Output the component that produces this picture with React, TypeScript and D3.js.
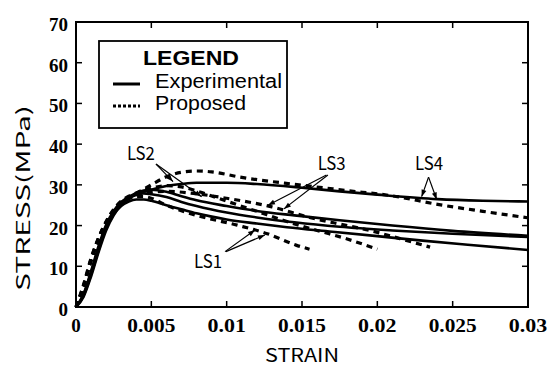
import React from 'react';
import * as d3 from 'd3';

// ---------- data ----------
const xTicks = [0, 0.005, 0.01, 0.015, 0.02, 0.025, 0.03];
const xTickLabels = ['0', '0.005', '0.01', '0.015', '0.02', '0.025', '0.03'];
const yTicks = [0, 10, 20, 30, 40, 50, 60, 70];
const yTickLabels = ['0', '10', '20', '30', '40', '50', '60', '70'];

const ls1ExpStrain = [0, 0.0005, 0.001, 0.0015, 0.002, 0.0025, 0.003, 0.0035, 0.004, 0.0045, 0.005, 0.006, 0.007, 0.008, 0.01, 0.012, 0.014, 0.017, 0.02, 0.023, 0.026, 0.03];
const ls1ExpStress = [0, 3, 8.5, 14.5, 19.5, 22.8, 24.8, 25.9, 26.4, 26.4, 26.1, 25, 24, 23, 21.5, 20.5, 19.6, 18.5, 17.4, 16.3, 15.3, 14];

const ls2ExpStrain = [0, 0.0005, 0.001, 0.0015, 0.002, 0.0025, 0.003, 0.0035, 0.004, 0.0045, 0.005, 0.006, 0.007, 0.008, 0.01, 0.012, 0.0145, 0.0175, 0.021, 0.025, 0.03];
const ls2ExpStress = [0, 2.8, 8, 14, 19.5, 23.3, 25.6, 27, 28, 28.6, 28.8, 28.3, 27.2, 26.2, 24.8, 23.6, 22.5, 21.3, 20, 18.7, 17.5];

const ls3ExpStrain = [0, 0.0005, 0.001, 0.0015, 0.002, 0.0025, 0.003, 0.0035, 0.004, 0.0045, 0.005, 0.006, 0.007, 0.008, 0.01, 0.012, 0.0145, 0.0175, 0.021, 0.025, 0.03];
const ls3ExpStress = [0, 3.2, 8.8, 15, 20.2, 23.6, 25.8, 27, 27.6, 27.9, 27.7, 27, 25.8, 24.8, 23.2, 22, 20.8, 19.7, 18.8, 18, 17.2];

const ls4ExpStrain = [0, 0.0005, 0.001, 0.0015, 0.002, 0.0025, 0.003, 0.0035, 0.004, 0.005, 0.006, 0.007, 0.008, 0.01, 0.012, 0.015, 0.0175, 0.02, 0.024, 0.027, 0.03];
const ls4ExpStress = [0, 2.5, 7.5, 13.5, 18.8, 22.5, 25, 26.6, 27.6, 28.8, 29.7, 30.2, 30.5, 30.5, 30.2, 29.3, 28.4, 27.6, 26.5, 26.1, 25.9];

const ls1PropStrain = [0, 0.0005, 0.001, 0.0015, 0.002, 0.0025, 0.003, 0.0035, 0.004, 0.0045, 0.005, 0.006, 0.008, 0.0107, 0.0127, 0.0146, 0.0155];
const ls1PropStress = [0, 5.5, 12, 17, 20.8, 23.6, 25.5, 26.6, 27.1, 27.1, 26.7, 25, 22.5, 20.1, 18, 15.2, 14.2];

const ls2PropStrain = [0, 0.0005, 0.001, 0.0015, 0.002, 0.0025, 0.003, 0.0035, 0.004, 0.005, 0.006, 0.007, 0.008, 0.01, 0.012, 0.014, 0.016, 0.018, 0.02];
const ls2PropStress = [0, 5.2, 11.8, 17, 21, 24, 26, 27.2, 28, 29.2, 29.8, 29.5, 28.5, 26, 23.5, 21, 18.8, 16.7, 14.2];

const ls3PropStrain = [0, 0.0005, 0.001, 0.0015, 0.002, 0.0025, 0.003, 0.0035, 0.004, 0.005, 0.006, 0.008, 0.01, 0.013, 0.0155, 0.018, 0.0195, 0.0215, 0.0235];
const ls3PropStress = [0, 5, 11.5, 16.8, 20.8, 23.8, 25.8, 26.9, 27.5, 28.2, 28.4, 27.8, 26.7, 24.6, 22, 20, 18.8, 16.8, 14.7];

const ls4PropStrain = [0, 0.0005, 0.001, 0.0015, 0.002, 0.0025, 0.003, 0.0035, 0.004, 0.005, 0.006, 0.007, 0.008, 0.009, 0.0109, 0.0148, 0.018, 0.021, 0.024, 0.027, 0.03];
const ls4PropStress = [0, 5, 11.2, 16.5, 20.5, 23.5, 25.6, 26.9, 27.9, 30, 32, 33.1, 33.4, 33.2, 31.9, 30, 28.6, 27.3, 25.2, 23.5, 21.9];

// annotation labels (data coords): label anchor, arrow start, arrow tips
const annLabels = ['LS1', 'LS2', 'LS3', 'LS4'];
const annLabelPos = [[0.00876, 9.6], [0.00431, 36.1], [0.01697, 33.65], [0.02343, 33.65]];
const annStart = [[[0.00989, 13.6], [0.00995, 13.6]], [[0.00531, 35.1], [0.00531, 35.1]], [[0.01662, 32.4], [0.01672, 32.4]], [[0.0234, 31.9], [0.0234, 31.9]]];
const annTips = [[[0.01188, 18.9], [0.01254, 17.7]], [[0.00644, 30.8], [0.00834, 27.1]], [[0.01274, 25.0], [0.0138, 24.1]], [[0.02294, 27.1], [0.02394, 26.4]]];

const legendTitle = 'LEGEND';
const legendLabels = ['Experimental', 'Proposed'];

// ---------- layout ----------
const W = 556, H = 367;
const X0 = 76, X1 = 528, Y0 = 307, Y1 = 22;

export default function App() {
  const x = d3.scaleLinear().domain([0, 0.03]).range([X0, X1]);
  const y = d3.scaleLinear().domain([0, 70]).range([Y0, Y1]);
  const line = d3.line<[number, number]>().x(d => x(d[0])).y(d => y(d[1])).curve(d3.curveMonotoneX);
  const mk = (s: number[], v: number[]) => line(s.map((e, i) => [e, v[i]] as [number, number])) || '';

  const exp = [
    mk(ls1ExpStrain, ls1ExpStress),
    mk(ls2ExpStrain, ls2ExpStress),
    mk(ls3ExpStrain, ls3ExpStress),
    mk(ls4ExpStrain, ls4ExpStress),
  ];
  const prop = [
    mk(ls1PropStrain, ls1PropStress),
    mk(ls2PropStrain, ls2PropStress),
    mk(ls3PropStrain, ls3PropStress),
    mk(ls4PropStrain, ls4PropStress),
  ];

  const tickFont = "'Liberation Serif', 'DejaVu Serif', serif";
  const sansFont = "'Liberation Sans', Arial, sans-serif";
  const gothFont = "'Noto Sans CJK JP', 'DejaVu Sans', sans-serif";

  const arrowHead = (sx: number, sy: number, tx: number, ty: number) => {
    const ang = Math.atan2(ty - sy, tx - sx);
    const L = 7, Wd = 2.5;
    const bx = tx - L * Math.cos(ang), by = ty - L * Math.sin(ang);
    const px = -Math.sin(ang) * Wd, py = Math.cos(ang) * Wd;
    return `M${tx},${ty}L${bx + px},${by + py}L${bx - px},${by - py}Z`;
  };

  return (
    <svg width={W} height={H} style={{ position: 'absolute', left: 0, top: 0, background: '#fff' }}>
      <rect x={0} y={0} width={W} height={H} fill="#fff" />
      {/* curves */}
      <g fill="none" stroke="#000" strokeLinejoin="round">
        {exp.map((d, i) => <path key={'e' + i} d={d} strokeWidth={2.6} />)}
        {prop.map((d, i) => <path key={'p' + i} d={d} strokeWidth={3.2} strokeDasharray="6,5" />)}
      </g>

      {/* frame */}
      <rect x={X0} y={Y1} width={X1 - X0} height={Y0 - Y1} fill="none" stroke="#000" strokeWidth={2} />

      {/* x ticks */}
      {xTicks.map((t, i) => (
        <g key={'xt' + i}>
          <line x1={x(t)} x2={x(t)} y1={Y0} y2={Y0 - 6} stroke="#000" strokeWidth={1.5} />
          <line x1={x(t)} x2={x(t)} y1={Y1} y2={Y1 + 6} stroke="#000" strokeWidth={1.5} />
          <text x={x(t)} y={332} textAnchor="middle" fontFamily={tickFont} fontWeight="bold" fontSize={19}
            {...(xTickLabels[i].length > 1 ? { textLength: xTickLabels[i].length * 9.6, lengthAdjust: 'spacingAndGlyphs' } : {})}>
            {xTickLabels[i]}
          </text>
        </g>
      ))}
      {/* y ticks */}
      {yTicks.map((t, i) => (
        <g key={'yt' + i}>
          <line x1={X0} x2={X0 + 6} y1={y(t)} y2={y(t)} stroke="#000" strokeWidth={1.5} />
          <line x1={X1} x2={X1 - 6} y1={y(t)} y2={y(t)} stroke="#000" strokeWidth={1.5} />
          <text x={68} y={y(t) + 9} textAnchor="end" fontFamily={tickFont} fontWeight="bold" fontSize={19}>
            {yTickLabels[i]}
          </text>
        </g>
      ))}

      {/* axis titles */}
      <text x={302} y={362} textAnchor="middle" fontFamily={gothFont} fontSize={18} textLength={74} lengthAdjust="spacingAndGlyphs">STRAIN</text>
      <text transform="translate(30,198) rotate(-90)" textAnchor="middle" fontFamily={gothFont} fontSize={18} textLength={186} lengthAdjust="spacingAndGlyphs">STRESS(MPa)</text>

      {/* legend */}
      <rect x={99} y={41} width={188} height={87} fill="#fff" stroke="#000" strokeWidth={1.8} />
      <text x={143} y={65} fontFamily={sansFont} fontWeight="bold" fontSize={21} textLength={96} lengthAdjust="spacingAndGlyphs">{legendTitle}</text>
      <line x1={113} x2={140} y1={84} y2={84} stroke="#000" strokeWidth={3} />
      <text x={155} y={87.5} fontFamily={sansFont} fontSize={19.5} textLength={127} lengthAdjust="spacingAndGlyphs">{legendLabels[0]}</text>
      <line x1={113} x2={140} y1={106} y2={106} stroke="#000" strokeWidth={3} strokeDasharray="3,2" />
      <text x={155} y={110} fontFamily={sansFont} fontSize={19.5} textLength={91} lengthAdjust="spacingAndGlyphs">{legendLabels[1]}</text>

      {/* annotations */}
      {annLabels.map((lab, i) => (
        <g key={'a' + i}>
          <text x={x(annLabelPos[i][0])} y={y(annLabelPos[i][1])} textAnchor="middle" fontFamily={gothFont} fontSize={18}
            textLength={28} lengthAdjust="spacingAndGlyphs">{lab}</text>
          {annTips[i].map((tp, j) => {
            const sx = x(annStart[i][j][0]), sy = y(annStart[i][j][1]);
            const tx = x(tp[0]), ty = y(tp[1]);
            return (
              <g key={j}>
                <line x1={sx} y1={sy} x2={tx} y2={ty} stroke="#000" strokeWidth={1.2} />
                <path d={arrowHead(sx, sy, tx, ty)} fill="#000" />
              </g>
            );
          })}
        </g>
      ))}
    </svg>
  );
}
